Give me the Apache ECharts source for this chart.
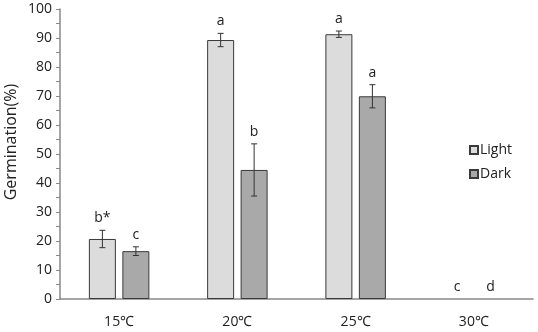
<!DOCTYPE html>
<html><head><meta charset="utf-8">
<script src="https://cdn.jsdelivr.net/npm/echarts@6/dist/echarts.min.js"></script>
<style>html,body{margin:0;padding:0;background:#fff}#c{width:538px;height:332px}</style>
</head><body><div id="c"></div>
<script>
const categories = ['15℃', '20℃', '25℃', '30℃'];
const lightValues = [20.7, 89.3, 91.3, 0];
const lightErrors = [3.0, 2.3, 1.1, 0];
const lightLetters = ['b*', 'a', 'a', 'c'];
const darkValues = [16.5, 44.5, 69.9, 0];
const darkErrors = [1.5, 9.0, 4.0, 0];
const darkLetters = ['c', 'b', 'a', 'd'];
const yAxisTitle = 'Germination(%)';

const FONT = '"Open Sans", "Liberation Sans", sans-serif';
const chart = echarts.init(document.getElementById('c'));

function barData(values) {
  return values.map(v => v === 0 ? {value: v, itemStyle: {borderWidth: 0}} : v);
}

function errSeries(name, values, errors, letters, offset) {
  const data = values.map((v, i) => [i, v, errors[i]]);
  return {
    type: 'custom', name: name + '_err', silent: true, z: 5,
    data: data,
    renderItem: function (params, api) {
      const i = api.value(0), v = api.value(1), e = api.value(2);
      const letter = letters[params.dataIndex];
      const c = api.coord([i, v]);
      const x = c[0] + offset;
      const children = [];
      let topY = c[1];
      if (e > 0) {
        const hi = api.coord([i, v + e])[1];
        const lo = api.coord([i, v - e])[1];
        topY = hi;
        const cap = 3;
        const st = {stroke: '#333', lineWidth: 1};
        children.push({type: 'line', shape: {x1: x, y1: hi, x2: x, y2: lo}, style: st});
        children.push({type: 'line', shape: {x1: x - cap, y1: hi, x2: x + cap, y2: hi}, style: st});
        children.push({type: 'line', shape: {x1: x - cap, y1: lo, x2: x + cap, y2: lo}, style: st});
      }
      children.push({type: 'text', style: {text: letter, x: x, y: topY - 12, align: 'center', verticalAlign: 'middle',
        fill: '#222', font: '14px ' + FONT}});
      return {type: 'group', children: children};
    }
  };
}

chart.setOption({
  animation: false,
  grid: {left: 60, right: 5, top: 9, bottom: 33},
  graphic: [{
    type: 'text', x: 11, y: 142, rotation: Math.PI / 2,
    style: {text: yAxisTitle, align: 'center', verticalAlign: 'middle', fill: '#222', font: '16px ' + FONT}
  }],
  legend: {
    orient: 'vertical', left: 464, top: 138, itemWidth: 8, itemHeight: 8, itemGap: 10,
    textStyle: {fontFamily: FONT, fontSize: 14, color: '#222', padding: [0, 0, 0, -3]},
    data: [{name: 'Light', icon: 'rect'}, {name: 'Dark', icon: 'rect'}]
  },
  xAxis: {
    type: 'category', data: categories,
    axisLine: {lineStyle: {color: '#888', width: 1.5}},
    axisTick: {show: false},
    axisLabel: {fontFamily: FONT, fontSize: 14, color: '#222', margin: 16}
  },
  yAxis: {
    type: 'value', min: 0, max: 100, interval: 10,
    axisLine: {show: true, lineStyle: {color: '#888', width: 1.5}},
    axisTick: {show: true, inside: false, length: 4, lineStyle: {color: '#888'}},
    minorTick: {show: true, splitNumber: 2, length: 4, lineStyle: {color: '#888'}},
    splitLine: {show: false},
    axisLabel: {fontFamily: FONT, fontSize: 14, color: '#222', margin: 8}
  },
  series: [
    {name: 'Light', type: 'bar', data: barData(lightValues), barWidth: 27, barGap: '24%',
      itemStyle: {color: '#dcdcdc', borderColor: '#3a3a3a', borderWidth: 1}},
    {name: 'Dark', type: 'bar', data: barData(darkValues), barWidth: 27, barGap: '24%',
      itemStyle: {color: '#a9a9a9', borderColor: '#3a3a3a', borderWidth: 1}},
    errSeries('Light', lightValues, lightErrors, lightLetters, -16.75),
    errSeries('Dark', darkValues, darkErrors, darkLetters, 16.75)
  ]
});
</script></body></html>
